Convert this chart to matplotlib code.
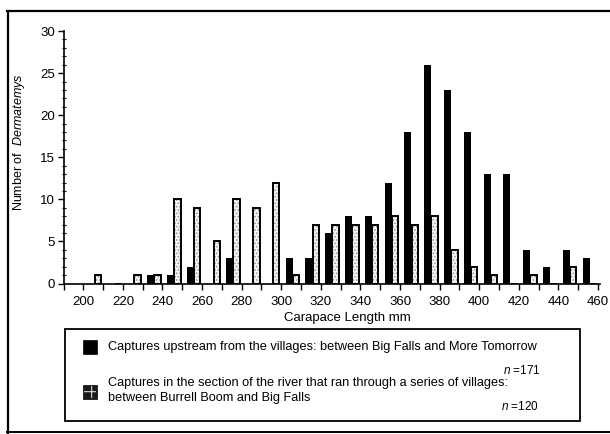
import matplotlib
matplotlib.use('Agg')
import matplotlib.pyplot as plt
from matplotlib.patches import Rectangle
from matplotlib.lines import Line2D
import numpy as np

# ---------------- data ----------------
bin_centers = [205, 215, 225, 235, 245, 255, 265, 275, 285, 295, 305, 315, 325,
               335, 345, 355, 365, 375, 385, 395, 405, 415, 425, 435, 445, 455]
upstream = [0, 0, 0, 1, 1, 2, 0, 3, 0, 0, 3, 3, 6,
            8, 8, 12, 18, 26, 23, 18, 13, 13, 4, 2, 4, 3]
villages = [1, 0, 1, 1, 10, 9, 5, 10, 9, 12, 1, 7, 7,
            7, 7, 8, 7, 8, 4, 2, 1, 0, 1, 0, 2, 0]
x_tick_values = [200, 220, 240, 260, 280, 300, 320, 340, 360, 380, 400, 420, 440, 460]
x_tick_labels = ["200", "220", "240", "260", "280", "300", "320", "340",
                 "360", "380", "400", "420", "440", "460"]
y_tick_values = [0, 5, 10, 15, 20, 25, 30]
y_tick_labels = ["0", "5", "10", "15", "20", "25", "30"]
legend_upstream = "Captures upstream from the villages: between Big Falls and More Tomorrow"
legend_villages_1 = "Captures in the section of the river that ran through a series of villages:"
legend_villages_2 = "between Burrell Boom and Big Falls"
n_upstream = 171
n_villages = 120

plt.rcParams['font.family'] = ['Liberation Sans', 'DejaVu Sans']
plt.rcParams['mathtext.fontset'] = 'custom'
plt.rcParams['mathtext.rm'] = 'Liberation Sans'
plt.rcParams['mathtext.it'] = 'Liberation Sans:italic'
plt.rcParams['hatch.linewidth'] = 0.8

W, H = 610, 434
fig = plt.figure(figsize=(W / 100, H / 100), dpi=100)

def fx(px):
    return px / W

def fy(py):
    return 1 - py / H

ax = fig.add_axes([fx(63.5), fy(283.5), fx(600) - fx(63.5), fy(31) - fy(283.5)])

bc = np.array(bin_centers, dtype=float)
ax.bar(bc - 1.05, upstream, width=3.5, color='black', linewidth=0, zorder=3)
# stippled white bars: hatch layer + outline layer
ax.bar(bc + 2.45, villages, width=3.3, facecolor='#f4f4f4', edgecolor='#9a9a9a',
       hatch='.....', linewidth=0, zorder=3)
ax.bar(bc + 2.45, villages, width=3.3, facecolor='none', edgecolor='black',
       linewidth=1.4, zorder=4)

ax.set_xlim(190, 461)
ax.set_ylim(0, 30)
ax.spines['top'].set_visible(False)
ax.spines['right'].set_visible(False)
for s in ('left', 'bottom'):
    ax.spines[s].set_linewidth(1.2)
    ax.spines[s].set_zorder(5)

ax.set_xticks(x_tick_values)
ax.set_xticklabels(x_tick_labels, fontsize=9.5)
ax.set_xticks(np.arange(190, 461, 10), minor=True)
ax.set_yticks(y_tick_values)
ax.set_yticklabels(y_tick_labels, fontsize=9.5)
ax.set_yticks(np.arange(0, 31, 1), minor=True)
ax.tick_params(axis='x', which='major', direction='out', length=4, width=1, pad=5)
ax.tick_params(axis='x', which='minor', direction='out', length=4, width=1)
ax.tick_params(axis='y', which='major', direction='out', length=4, width=1, pad=2)
ax.tick_params(axis='y', which='minor', direction='inout', length=3, width=0.8)

fig.text(fx(19), fy(142), r"Number of  $\it{Dermatemys}$", rotation=90,
         ha='center', va='center', fontsize=9)
fig.text(fx(347), fy(318), "Carapace Length mm", ha='center', va='center', fontsize=9.5)

# outer frame
fig.add_artist(Line2D([fx(7), fx(610)], [fy(10.5), fy(10.5)], color='black', lw=1.6))
fig.add_artist(Line2D([fx(7.5), fx(7.5)], [fy(10.5), fy(434)], color='black', lw=1.6))
fig.add_artist(Line2D([fx(7), fx(610)], [fy(432), fy(432)], color='black', lw=1.4))

# legend box
fig.add_artist(Rectangle((fx(65), fy(421)), fx(580) - fx(65), fy(329) - fy(421),
                         facecolor='white', edgecolor='black', lw=1.3))
fig.add_artist(Rectangle((fx(83), fy(354)), fx(97) - fx(83), fy(340) - fy(354),
                         facecolor='black', edgecolor='black', lw=0.5))
fig.add_artist(Rectangle((fx(83), fy(399)), fx(97) - fx(83), fy(385) - fy(399),
                         facecolor='#1a1a1a', edgecolor='black', lw=0.5))
fig.add_artist(Rectangle((fx(84), fy(398)), fx(96) - fx(84), fy(386) - fy(398),
                         facecolor='none', edgecolor='#d8d8d8', hatch='+', lw=0))

fig.text(fx(108), fy(347), legend_upstream, ha='left', va='center', fontsize=9.2)
fig.text(fx(541), fy(371), r"$\it{n}$ =" + str(n_upstream), ha='right', va='center', fontsize=8.5)
fig.text(fx(108), fy(383), legend_villages_1, ha='left', va='center', fontsize=9.2)
fig.text(fx(108), fy(398), legend_villages_2, ha='left', va='center', fontsize=9.2)
fig.text(fx(539), fy(407), r"$\it{n}$ =" + str(n_villages), ha='right', va='center', fontsize=8.5)

fig.savefig('out.png', dpi=100)
